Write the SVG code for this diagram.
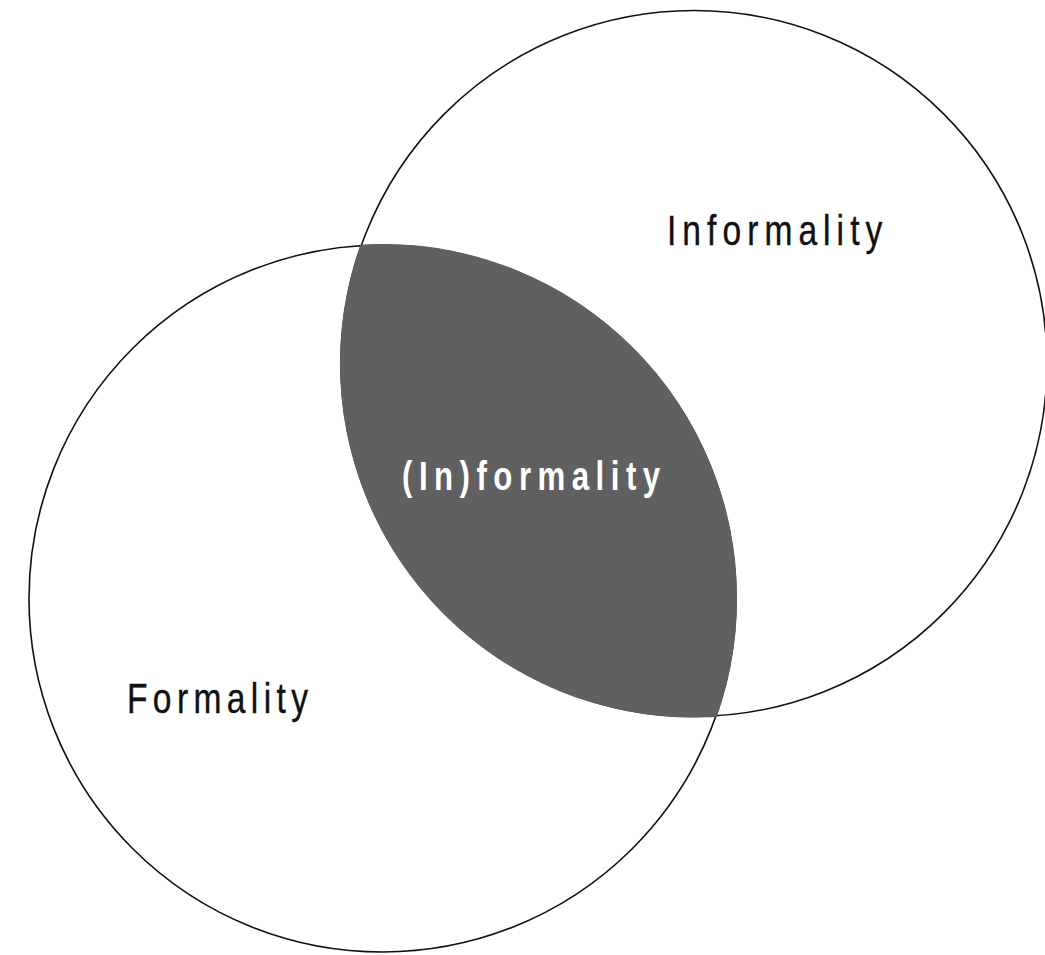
<svg xmlns="http://www.w3.org/2000/svg" width="1045" height="955" viewBox="0 0 1045 955">
<style>
.c{fill:none;stroke:#111;stroke-width:1.6}
.t{font-family:"Liberation Sans",Arial,sans-serif;font-size:43px;fill:#111;stroke:#111;stroke-width:0.4}
.w{font-family:"Liberation Sans",Arial,sans-serif;font-size:40px;font-weight:bold;fill:#fff}
</style>
<defs>
<clipPath id="clipA"><circle cx="382.5" cy="598.5" r="354.6"/></clipPath>
</defs>
<rect width="1045" height="955" fill="#fff"/>
<g id="formality">
<circle class="c" cx="382.5" cy="598.5" r="353.5"/>
<text class="t" transform="translate(127,713) scale(0.78,1)" textLength="232" lengthAdjust="spacing">Formality</text>
</g>
<g id="informality">
<circle class="c" cx="694" cy="363.5" r="353"/>
<text class="t" transform="translate(667,245) scale(0.78,1)" textLength="276" lengthAdjust="spacing">Informality</text>
</g>
<g id="overlap">
<circle cx="694" cy="363.5" r="354.1" fill="#606060" clip-path="url(#clipA)"/>
</g>
<g id="inFormality">
<text class="w" transform="translate(402,490) scale(0.78,1)" textLength="331" lengthAdjust="spacing">(In)formality</text>
</g>
<g id="connectors"/>
</svg>
